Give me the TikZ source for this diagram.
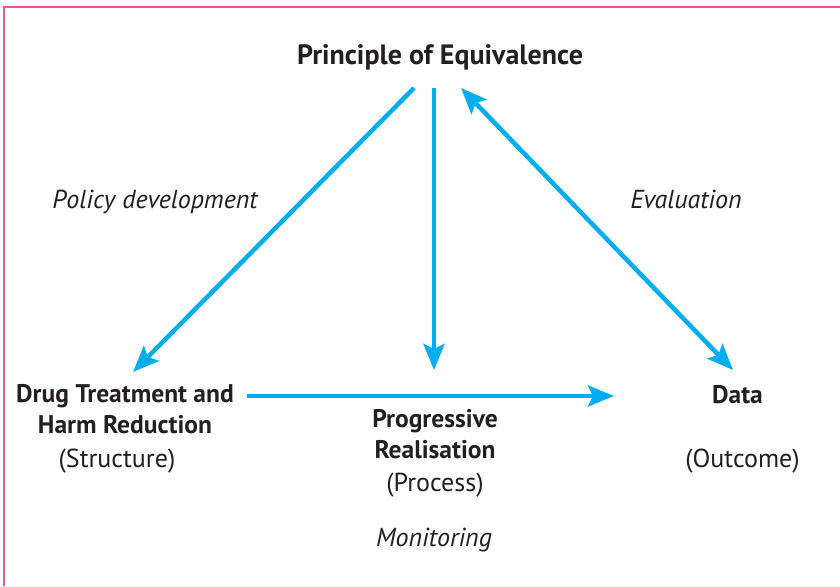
\documentclass[tikz,border=0pt]{standalone}
\usepackage{fontspec}
\setmainfont{PT Sans}
\usetikzlibrary{arrows.meta}
\definecolor{frame}{HTML}{E8559C}
\definecolor{flow}{HTML}{00AEEF}
\definecolor{ink}{HTML}{231F20}
\begin{document}
\begin{tikzpicture}[x=1pt,y=-1pt,
  txt/.style={inner sep=0pt,text=ink,font=\fontsize{26}{30}\selectfont,align=center},
  head/.style={txt,font=\fontsize{25.5}{30.5}\selectfont\bfseries},
  title/.style={txt,font=\fontsize{28}{30}\selectfont\bfseries},
  note/.style={txt,font=\fontsize{26}{30}\selectfont\itshape},
  flowline/.style={draw=flow,line width=4.5pt},
  tip/.style={-{Stealth[length=26pt,width=21pt,inset=5pt]}},
  tips/.style={{Stealth[length=26pt,width=21pt,inset=5pt]}-{Stealth[length=26pt,width=21pt,inset=5pt]}}]
\useasboundingbox (0,0) rectangle (840,586);
% frame (only its top and left edges fall inside the page)
\draw[frame,line width=1.5pt] (4,586) -- (4,7) -- (840,7);

% labels
\node[title] (pe) at (440,57) {Principle of Equivalence};
\node[note] (pol) at (155,202) {Policy development};
\node[note] (eval) at (686,199) {Evaluation};
\node[head] (drug) at (125,409) {Drug Treatment and\\Harm Reduction};
\node[txt] (struct) at (117,461) {(Structure)};
\node[head] (prog) at (435,434) {Progressive\\Realisation};
\node[txt] (proc) at (435,485) {(Process)};
\node[note] (mon) at (434,540) {Monitoring};
\node[head] (data) at (737.5,395) {Data};
\node[txt] (out) at (742.5,461) {(Outcome)};

% arrow end points
\coordinate (pL) at (414,88);
\coordinate (pM) at (434,88);
\coordinate (pR) at (461,88);
\coordinate (dT) at (133,372);
\coordinate (gT) at (434,370);
\coordinate (aT) at (733,370);
\coordinate (hS) at (247,396);
\coordinate (hE) at (614,396);

% connectors
\draw[flowline,tip] (pL) -- (dT);
\draw[flowline,tip] (pM) -- (gT);
\draw[flowline,tips] (pR) -- (aT);
\draw[flowline,tip] (hS) -- (hE);
\end{tikzpicture}
\end{document}
